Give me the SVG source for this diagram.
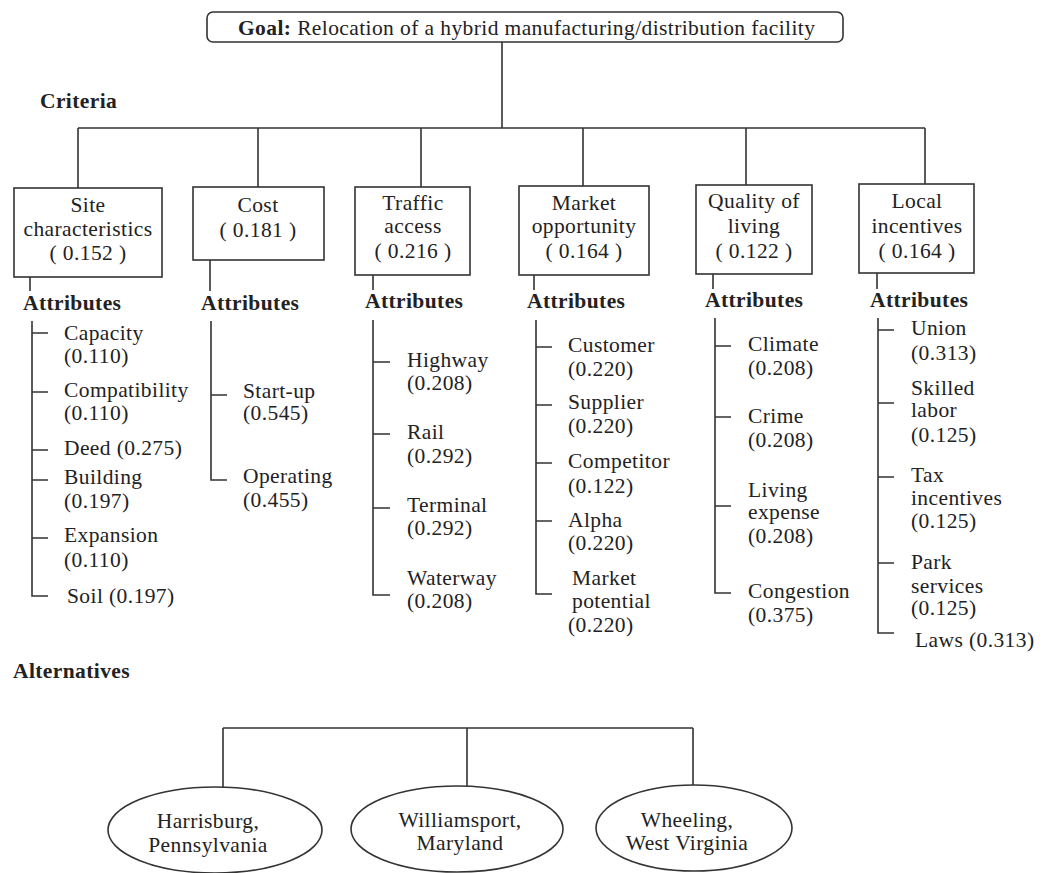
<svg xmlns="http://www.w3.org/2000/svg" width="1044" height="873" viewBox="0 0 1044 873">
  <style>
    .t { font-family: "Liberation Serif", "Times New Roman", serif; font-size: 21.5px; letter-spacing: 0.4px; fill: #222; }
    .b { font-weight: bold; }
    .c { text-anchor: middle; }
    .ln { stroke: #333; stroke-width: 1.6; fill: none; }
    .box { stroke: #333; stroke-width: 1.6; fill: #fff; }
  </style>
  <rect width="1044" height="873" fill="#fff"/>

  <!-- connectors: hierarchy links, attribute trees, alternative links -->
  <g id="connectors" class="ln">
    <!-- goal to criteria -->
    <path d="M502 42 V128 M78 128 H925 M78 128 V188 M258 128 V187 M421 128 V187 M583 128 V186 M746 128 V185 M925 128 V184"/>
    <!-- criteria to attribute lists -->
    <path d="M30 277 V291 M210 260 V291 M373 275 V290 M534 275 V290 M713 274 V289 M877 273 V289"/>
    <!-- site characteristics tree -->
    <path d="M32 321 V596 H48 M32 333 H48 M32 392 H48 M32 450 H48 M32 480 H48 M32 538 H48"/>
    <!-- cost tree -->
    <path d="M211 321 V480 H227 M211 395 H227"/>
    <!-- traffic access tree -->
    <path d="M373 320 V595 H390 M373 362 H390 M373 434 H390 M373 508 H390"/>
    <!-- market opportunity tree -->
    <path d="M536 320 V594 H552 M536 347 H552 M536 405 H552 M536 463 H552 M536 521 H552"/>
    <!-- quality of living tree -->
    <path d="M715 318 V593 H731 M715 346 H731 M715 417 H731 M715 506 H731"/>
    <!-- local incentives tree -->
    <path d="M878 318 V633 H894 M878 330 H894 M878 403 H894 M878 477 H894 M878 563 H894"/>
    <!-- alternatives -->
    <path d="M223 728 H693 M223 728 V787 M467 728 V786 M693 728 V785"/>
  </g>

  <g id="goal">
    <rect class="box" x="207" y="12" width="636" height="30" rx="6"/>
    <text class="t" x="238" y="35"><tspan class="b">Goal:</tspan> Relocation of a hybrid manufacturing/distribution facility</text>
  </g>

  <text id="label-criteria" class="t b" x="40" y="108">Criteria</text>

  <g id="crit-site">
    <rect class="box" x="14" y="188" width="148" height="89"/>
    <text class="t c" x="88" y="212">Site</text>
    <text class="t c" x="88" y="236">characteristics</text>
    <text class="t c" x="88" y="260">( 0.152 )</text>
  </g>
  <g id="crit-cost">
    <rect class="box" x="193" y="187" width="131" height="73"/>
    <text class="t c" x="258" y="212">Cost</text>
    <text class="t c" x="258" y="237">( 0.181 )</text>
  </g>
  <g id="crit-traffic">
    <rect class="box" x="355" y="187" width="115" height="88"/>
    <text class="t c" x="413" y="210">Traffic</text>
    <text class="t c" x="413" y="233">access</text>
    <text class="t c" x="413" y="258">( 0.216 )</text>
  </g>
  <g id="crit-market">
    <rect class="box" x="519" y="186" width="130" height="89"/>
    <text class="t c" x="584" y="210">Market</text>
    <text class="t c" x="584" y="233">opportunity</text>
    <text class="t c" x="584" y="258">( 0.164 )</text>
  </g>
  <g id="crit-quality">
    <rect class="box" x="696" y="185" width="116" height="89"/>
    <text class="t c" x="754" y="208">Quality of</text>
    <text class="t c" x="754" y="233">living</text>
    <text class="t c" x="754" y="258">( 0.122 )</text>
  </g>
  <g id="crit-local">
    <rect class="box" x="859" y="184" width="115" height="89"/>
    <text class="t c" x="917" y="208">Local</text>
    <text class="t c" x="917" y="233">incentives</text>
    <text class="t c" x="917" y="258">( 0.164 )</text>
  </g>

  <!-- attribute lists -->
  <g id="attr-site" class="t">
    <text class="b" x="23" y="310">Attributes</text>
    <text x="64" y="340">Capacity</text>
    <text x="64" y="363">(0.110)</text>
    <text x="64" y="397">Compatibility</text>
    <text x="64" y="420">(0.110)</text>
    <text x="64" y="455">Deed (0.275)</text>
    <text x="64" y="484">Building</text>
    <text x="64" y="508">(0.197)</text>
    <text x="64" y="542">Expansion</text>
    <text x="64" y="567">(0.110)</text>
    <text x="67" y="603">Soil (0.197)</text>
  </g>
  <g id="attr-cost" class="t">
    <text class="b" x="201" y="310">Attributes</text>
    <text x="243" y="398">Start-up</text>
    <text x="243" y="420">(0.545)</text>
    <text x="243" y="483">Operating</text>
    <text x="243" y="507">(0.455)</text>
  </g>
  <g id="attr-traffic" class="t">
    <text class="b" x="365" y="308">Attributes</text>
    <text x="407" y="367">Highway</text>
    <text x="407" y="390">(0.208)</text>
    <text x="407" y="439">Rail</text>
    <text x="407" y="463">(0.292)</text>
    <text x="407" y="512">Terminal</text>
    <text x="407" y="535">(0.292)</text>
    <text x="407" y="585">Waterway</text>
    <text x="407" y="608">(0.208)</text>
  </g>
  <g id="attr-market" class="t">
    <text class="b" x="527" y="308">Attributes</text>
    <text x="568" y="352">Customer</text>
    <text x="568" y="376">(0.220)</text>
    <text x="568" y="409">Supplier</text>
    <text x="568" y="433">(0.220)</text>
    <text x="568" y="468">Competitor</text>
    <text x="568" y="493">(0.122)</text>
    <text x="568" y="527">Alpha</text>
    <text x="568" y="550">(0.220)</text>
    <text x="572" y="585">Market</text>
    <text x="572" y="608">potential</text>
    <text x="568" y="632">(0.220)</text>
  </g>
  <g id="attr-quality" class="t">
    <text class="b" x="705" y="307">Attributes</text>
    <text x="748" y="351">Climate</text>
    <text x="748" y="375">(0.208)</text>
    <text x="748" y="423">Crime</text>
    <text x="748" y="447">(0.208)</text>
    <text x="748" y="497">Living</text>
    <text x="748" y="519">expense</text>
    <text x="748" y="543">(0.208)</text>
    <text x="748" y="598">Congestion</text>
    <text x="748" y="622">(0.375)</text>
  </g>
  <g id="attr-local" class="t">
    <text class="b" x="870" y="307">Attributes</text>
    <text x="911" y="335">Union</text>
    <text x="911" y="360">(0.313)</text>
    <text x="911" y="395">Skilled</text>
    <text x="911" y="417">labor</text>
    <text x="911" y="442">(0.125)</text>
    <text x="911" y="482">Tax</text>
    <text x="911" y="505">incentives</text>
    <text x="911" y="528">(0.125)</text>
    <text x="911" y="569">Park</text>
    <text x="911" y="593">services</text>
    <text x="911" y="615">(0.125)</text>
    <text x="915" y="647">Laws (0.313)</text>
  </g>

  <text id="label-alternatives" class="t b" x="13" y="678">Alternatives</text>

  <g id="alt-harrisburg">
    <ellipse class="box" cx="215" cy="830" rx="107" ry="43"/>
    <text class="t c" x="208" y="828">Harrisburg,</text>
    <text class="t c" x="208" y="852">Pennsylvania</text>
  </g>
  <g id="alt-williamsport">
    <ellipse class="box" cx="457" cy="829" rx="106" ry="43"/>
    <text class="t c" x="460" y="827">Williamsport,</text>
    <text class="t c" x="460" y="850">Maryland</text>
  </g>
  <g id="alt-wheeling">
    <ellipse class="box" cx="694" cy="828" rx="98" ry="43"/>
    <text class="t c" x="687" y="827">Wheeling,</text>
    <text class="t c" x="687" y="850">West Virginia</text>
  </g>
</svg>
